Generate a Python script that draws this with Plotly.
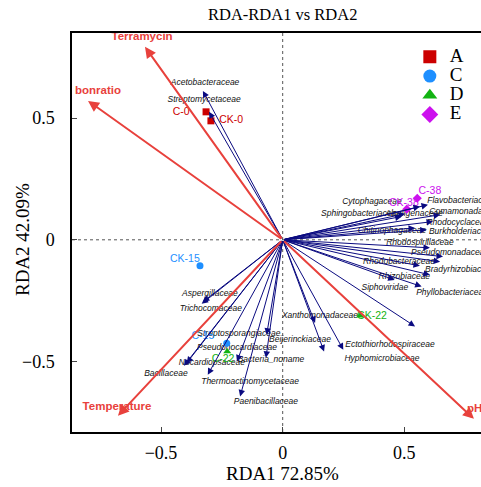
import plotly.graph_objects as go

# ---- data ----
env_names = ["Terramycin", "bonratio", "Temperature", "pH"]
env_x = [-0.566, -0.80, -0.677, 0.786]
env_y = [0.793, 0.571, -0.723, -0.736]
env_lab_x = [-0.578, -0.759, -0.681, 0.789]
env_lab_y = [0.835, 0.612, -0.686, -0.695]

species = ["Acetobacteraceae", "Streptomycetaceae", "Cytophagaceae", "Flavobacteriaceae",
           "Sphingobacteriaceae", "Alcaligenaceae", "Comamonadaceae", "Rhodocyclaceae",
           "Chitinophagaceae", "Burkholderiaceae", "Rhodospirillaceae", "Pseudomonadaceae",
           "Rhodobacteraceae", "Bradyrhizobiaceae", "Rhizobiaceae", "Siphoviridae",
           "Phyllobacteriaceae", "Xanthomonadaceae", "Beijerinckiaceae", "Ectothiorhodospiraceae",
           "Hyphomicrobiaceae", "Bacteria_noname", "Streptosporangiaceae", "Pseudonocardiaceae",
           "Nocardiopsaceae", "Bacillaceae", "Thermoactinomycetaceae", "Paenibacillaceae",
           "Aspergillaceae", "Trichocomaceae"]
sp_x = [-0.328, -0.303, 0.564, 0.597, 0.489, 0.503, 0.647, 0.618, 0.544, 0.592, 0.605, 0.659,
        0.647, 0.605, 0.564, 0.46, 0.571, 0.133, 0.170, 0.544, 0.249, -0.069, -0.066, -0.188,
        -0.395, -0.406, -0.308, -0.175, -0.333, -0.328]
sp_y = [0.612, 0.526, 0.137, 0.144, 0.096, 0.107, 0.103, 0.075, 0.049, 0.041, -0.033, -0.069,
        -0.090, -0.144, -0.107, -0.165, -0.192, -0.342, -0.459, -0.356, -0.452, -0.485, -0.39,
        -0.50, -0.507, -0.518, -0.555, -0.644, -0.263, -0.255]
sp_lab_x = [-0.319, -0.323, 0.367, 0.737, 0.322, 0.54, 0.75, 0.72, 0.449, 0.737, 0.564, 0.688,
            0.478, 0.73, 0.5, 0.42, 0.696, 0.153, 0.071, 0.441, 0.408, -0.048, -0.18, -0.188,
            -0.291, -0.48, -0.134, -0.069, -0.299, -0.295]
sp_lab_y = [0.645, 0.575, 0.156, 0.160, 0.107, 0.107, 0.115, 0.071, 0.037, 0.033, -0.012, -0.053,
            -0.090, -0.123, -0.152, -0.197, -0.218, -0.312, -0.411, -0.432, -0.489, -0.493, -0.386,
            -0.444, -0.506, -0.551, -0.584, -0.666, -0.222, -0.284]

groups = ["A", "C", "D", "E"]
group_samples = {
    "A": ["C-0", "CK-0"],
    "C": ["CK-15", "C-15"],
    "D": ["C-22", "CK-22"],
    "E": ["C-38", "CK-38"],
}
sample_x = {"A": [-0.315, -0.295], "C": [-0.340, -0.230], "D": [-0.228, 0.318], "E": [0.553, 0.510]}
sample_y = {"A": [0.526, 0.489], "C": [-0.107, -0.425], "D": [-0.459, -0.312], "E": [0.171, 0.126]}
sample_lab_x = {"A": [-0.417, -0.212], "C": [-0.402, -0.328], "D": [-0.245, 0.367], "E": [0.605, 0.498]}
sample_lab_y = {"A": [0.522, 0.489], "C": [-0.082, -0.399], "D": [-0.493, -0.316], "E": [0.197, 0.148]}

x_ticks = [-0.5, 0, 0.5]
y_ticks = [-0.5, 0, 0.5]

# ---- style ----
RED = "#E8413C"
NAVY = "#0A0A80"
gcolors = {"A": "#CC0000", "C": "#1E8FFF", "D": "#12B312", "E": "#CC11EE"}
gsymbols = {"A": "square", "C": "circle", "D": "triangle-up", "E": "diamond"}
SERIF = "Liberation Serif"
SANS = "Liberation Sans"

W, H = 481, 487

fig = go.Figure()
annotations = []

for sx, sy in zip(sp_x, sp_y):
    annotations.append(dict(x=sx, y=sy, ax=0, ay=0, xref="x", yref="y", axref="x", ayref="y",
                            text="", showarrow=True, arrowhead=2, arrowsize=1.3, arrowwidth=1,
                            arrowcolor=NAVY, standoff=0))
for ex, ey in zip(env_x, env_y):
    annotations.append(dict(x=ex, y=ey, ax=0, ay=0, xref="x", yref="y", axref="x", ayref="y",
                            text="", showarrow=True, arrowhead=2, arrowsize=1.1, arrowwidth=2,
                            arrowcolor=RED, standoff=0))

fig.add_trace(go.Scatter(x=sp_lab_x, y=sp_lab_y, text=species, mode="text",
                         textfont=dict(family=SANS, size=8.5, color="#111111", style="italic"),
                         showlegend=False, hoverinfo="skip", cliponaxis=True))
fig.add_trace(go.Scatter(x=env_lab_x, y=env_lab_y, text=env_names, mode="text",
                         textfont=dict(family=SANS, size=11.5, color=RED, weight="bold"),
                         showlegend=False, hoverinfo="skip", cliponaxis=True))

for g in groups:
    fig.add_trace(go.Scatter(x=sample_x[g], y=sample_y[g], mode="markers",
                             marker=dict(symbol=gsymbols[g], size=7, color=gcolors[g]),
                             showlegend=False, cliponaxis=True))
    fig.add_trace(go.Scatter(x=sample_lab_x[g], y=sample_lab_y[g], text=group_samples[g], mode="text",
                             textfont=dict(family=SANS, size=10.5, color=gcolors[g]),
                             showlegend=False, hoverinfo="skip", cliponaxis=True))
for g in groups:
    fig.add_trace(go.Scatter(x=[None], y=[None], mode="markers",
                             name='<span style="font-size:19px">' + g + '</span>',
                             marker=dict(symbol=gsymbols[g], size=13, color=gcolors[g])))

shapes = [
    dict(type="line", xref="x", yref="paper", x0=0, x1=0, y0=0, y1=1,
         line=dict(color="#555555", width=1, dash="dot"), layer="below"),
    dict(type="line", xref="paper", yref="y", x0=0, x1=1, y0=0, y1=0,
         line=dict(color="#555555", width=1, dash="dot"), layer="below"),
]

annotations.append(dict(text="RDA1 72.85%", xref="paper", yref="paper", x=(282.7 - 72) / 409,
                        y=(432 - 474) / 399, showarrow=False, xanchor="center", yanchor="middle",
                        font=dict(family=SERIF, size=19, color="black")))
annotations.append(dict(text="RDA2 42.09%", xref="paper", yref="paper", x=(22 - 72) / 409,
                        y=(432 - 240) / 399, showarrow=False, xanchor="center",
                        yanchor="middle", textangle=-90,
                        font=dict(family=SERIF, size=19, color="black")))

fig.update_layout(
    width=W, height=H,
    margin=dict(l=72, r=0, t=33, b=55),
    paper_bgcolor="white", plot_bgcolor="white",
    title=dict(text="RDA-RDA1 vs RDA2", x=282.7 / W, xanchor="center", y=1 - 14 / H,
               yanchor="middle", font=dict(family=SERIF, size=16.5, color="black")),
    xaxis=dict(range=[-0.866, 0.815], tickvals=x_ticks, ticks="inside", ticklen=5,
               showgrid=False, zeroline=False, showline=True, linecolor="black", linewidth=1.5,
               mirror=True, tickfont=dict(family=SERIF, size=18, color="black"),
               ticklabelstandoff=4),
    yaxis=dict(range=[-0.79, 0.85], tickvals=y_ticks, ticks="inside", ticklen=5,
               showgrid=False, zeroline=False, showline=True, linecolor="black", linewidth=1.5,
               mirror=False, tickfont=dict(family=SERIF, size=18, color="black"),
               ticklabelstandoff=12),
    legend=dict(x=0.826, y=0.977, xanchor="left", yanchor="top", bgcolor="rgba(0,0,0,0)",
                font=dict(family=SERIF, size=12.5, color="black"), itemsizing="trace",
                tracegroupgap=0),
    shapes=shapes,
    annotations=annotations,
)

fig.write_html(
    "out.html",
    config={"displayModeBar": False},
    post_script="document.body.style.margin='0';"
                "document.documentElement.style.overflow='hidden';"
                "document.body.style.overflow='hidden';",
)
